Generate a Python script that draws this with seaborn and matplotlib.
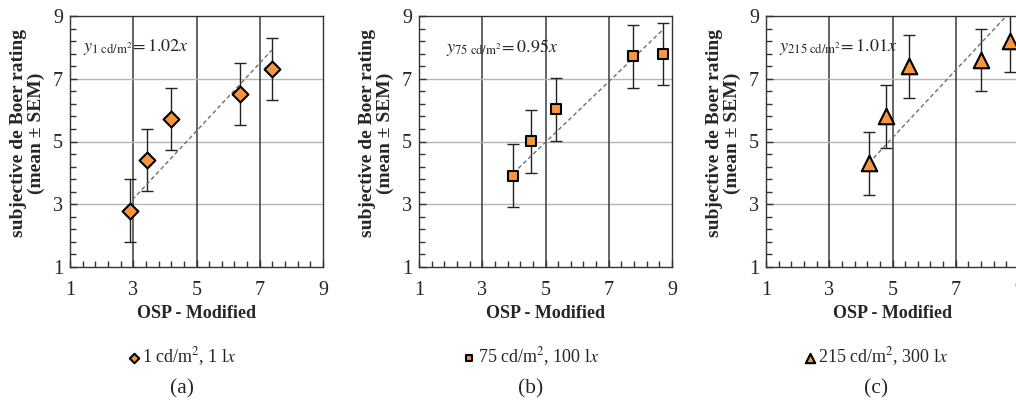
import numpy as np
import pandas as pd
import matplotlib
matplotlib.use("Agg")
import matplotlib.pyplot as plt
import seaborn as sns
from matplotlib.ticker import FixedLocator

# Data
osp_a = [2.89, 3.42, 4.19, 6.36, 7.39]
rating_a = [2.79, 4.41, 5.72, 6.51, 7.31]
sem_a = [1.0, 1.0, 1.0, 1.0, 1.0]

osp_b = [3.98, 4.53, 5.33, 7.77, 8.70]
rating_b = [3.91, 5.01, 6.02, 7.71, 7.79]
sem_b = [1.0, 1.0, 1.0, 1.0, 1.0]

osp_c = [4.25, 4.78, 5.52, 7.81, 8.71]
rating_c = [4.30, 5.80, 7.40, 7.60, 8.20]
sem_c = [1.0, 1.0, 1.0, 1.0, 1.0]

# dashed fit lines (endpoints as drawn)
fit_x = [[2.97, 7.39], [3.98, 8.70], [4.25, 8.58]]
fit_y = [[3.14, 7.92], [3.99, 8.55], [4.31, 8.98]]

major_ticks = [1, 3, 5, 7, 9]
fit_text = [r"$y_{1\ \mathrm{cd/m^2}}\!=1.02x$",
            r"$y_{75\ \mathrm{cd/m^2}}\!=0.95x$",
            r"$y_{215\ \mathrm{cd/m^2}}\!=1.01x$"]
legend_text = [r"1 cd/m$^2$, 1 l$x$", r"75 cd/m$^2$, 100 l$x$", r"215 cd/m$^2$, 300 l$x$"]
panel_tags = ["(a)", "(b)", "(c)"]

sns.set_style("ticks")
plt.rcParams['font.family'] = ['Liberation Serif', 'DejaVu Serif']
plt.rcParams['mathtext.fontset'] = 'stix'

orange = '#F7963F'
panels = [
    (osp_a, rating_a, sem_a, 'D', 65),
    (osp_b, rating_b, sem_b, 's', 50),
    (osp_c, rating_c, sem_c, '^', 125),
]

fig = plt.figure(figsize=(10.16, 4.03), dpi=100)
lefts = [70 / 1016, 419 / 1016, 766 / 1016]
ax_w, ax_h = 253 / 1016, 251 / 403
ax_b = (403 - 267) / 403
centers = [182 / 1016, 531 / 1016, 876 / 1016]
minor = np.arange(1, 9.01, 0.4)

for i, (xs, ys, es, mk, sz) in enumerate(panels):
    ax = fig.add_axes([lefts[i], ax_b, ax_w, ax_h])
    df = pd.DataFrame({'osp': xs, 'rating': ys})

    for g in [3, 5, 7]:
        ax.axhline(g, color='#b5b5b5', lw=1.0, zorder=0)
        ax.axvline(g, color='#3a3a3a', lw=1.1, zorder=0)

    ax.errorbar(xs, ys, yerr=es, fmt='none', ecolor='#222222', elinewidth=1.0,
                capsize=4, capthick=1.0, zorder=2)
    ax.plot(fit_x[i], fit_y[i], ls=(0, (3, 2)), color='#707070', lw=1.0, zorder=2.5)
    sns.scatterplot(data=df, x='osp', y='rating', marker=mk, s=sz, color=orange,
                    edgecolor='black', linewidth=1.5, zorder=3, ax=ax,
                    label=legend_text[i], clip_on=False)

    ax.set_xlim(1, 9)
    ax.set_ylim(1, 9)
    ax.xaxis.set_major_locator(FixedLocator(major_ticks))
    ax.yaxis.set_major_locator(FixedLocator(major_ticks))
    ax.xaxis.set_minor_locator(FixedLocator(minor))
    ax.yaxis.set_minor_locator(FixedLocator(minor))
    ax.tick_params(which='both', direction='in', top=False, right=False,
                   color='#333333', labelsize=14.5)
    ax.tick_params(which='major', length=5, width=1.0)
    ax.tick_params(which='minor', length=4, width=1.0)
    ax.tick_params(axis='x', which='major', pad=10)
    ax.tick_params(axis='y', which='major', pad=5)
    for sp in ax.spines.values():
        sp.set_color('#333333')
        sp.set_linewidth(1.0)

    ax.set_xlabel('OSP - Modified', fontsize=13, fontweight='bold', labelpad=4)
    ax.set_ylabel('subjective de Boer rating\n(mean ± SEM)', fontsize=14,
                  fontweight='bold', linespacing=1.0)
    ax.yaxis.set_label_coords(-0.10, 0.534)

    ax.text(1.4 if i != 1 else 1.85, 8.0, fit_text[i], fontsize=13,
            ha='left', va='center')

    ax.legend(loc='center', bbox_to_anchor=(centers[i], 1 - 357 / 403),
              bbox_transform=fig.transFigure, frameon=False, fontsize=13,
              handletextpad=0.1, handlelength=0.7, markerscale=0.6, borderpad=0)
    fig.text(centers[i], 1 - 389 / 403, panel_tags[i], ha='center', va='center',
             fontsize=15.5)

fig.savefig('out.png', dpi=100)
